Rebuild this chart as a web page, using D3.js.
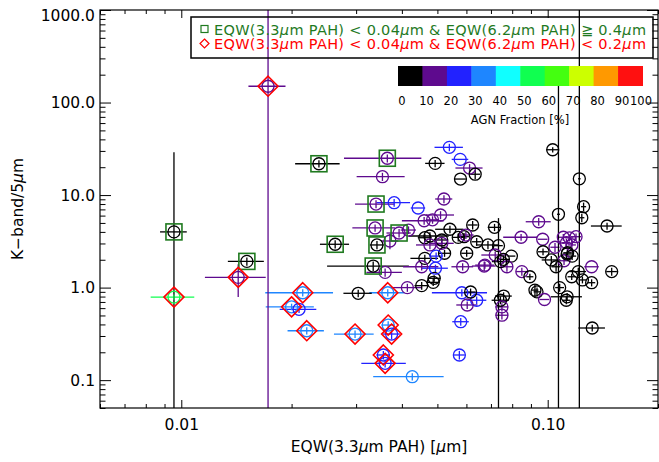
<!DOCTYPE html>
<html>
<head>
<meta charset="utf-8">
<script src="https://cdn.jsdelivr.net/npm/d3@7"></script>
<style>
  body { margin: 0; background: #fff; }
  text { font-family: 'DejaVu Sans', sans-serif; }
</style>
</head>
<body>
<div id="chart"></div>
<script>
// EQW(3.3um PAH) vs K-band/5um, colour = AGN fraction

const eqw = [0.01725, 0.00955, 0.00955, 0.0143, 0.0151, 0.02145, 0.0200, 0.02096, 0.022, 0.0263,
  0.0334, 0.02375, 0.0365, 0.034, 0.0338, 0.0393, 0.0342, 0.0366, 0.0298, 0.0367,
  0.0375, 0.0356, 0.036, 0.0539, 0.0493, 0.0577, 0.0612, 0.0578, 0.0634, 0.0354,
  0.0381, 0.0443, 0.0521, 0.051, 0.046, 0.0485, 0.0417, 0.0371, 0.0541, 0.0624,
  0.0462, 0.0477, 0.0514, 0.057, 0.0591, 0.064, 0.0687, 0.0462, 0.0523, 0.0601,
  0.049, 0.0514, 0.0477, 0.0598, 0.036, 0.0586, 0.0674, 0.0453, 0.0496, 0.0494,
  0.1032, 0.122, 0.107, 0.1253, 0.1239, 0.1452, 0.0945, 0.0846, 0.0969, 0.1103,
  0.1146, 0.1195, 0.1125, 0.1164, 0.1047, 0.1108, 0.113, 0.1166, 0.1133, 0.1023,
  0.1054, 0.0971, 0.0796, 0.0734, 0.0716, 0.0719, 0.0671, 0.0774, 0.085, 0.0894,
  0.0744, 0.0757, 0.1078, 0.0923, 0.0935, 0.1318, 0.1495, 0.1163, 0.1244, 0.1318,
  0.1212, 0.098, 0.113, 0.1124, 0.0758, 0.0743, 0.075, 0.075, 0.064, 0.1323,
  0.0304, 0.0414, 0.0453, 0.0487, 0.0583, 0.0616, 0.0603, 0.0579, 0.0574, 0.0427]

const eqwErr = [0.002, 0.0008, 0.0013, 0.0027, 0.0017, 0.0045, 0.003, 0.0024, 0.0025, 0.0024,
  0.0084, 0.0033, 0.0087, 0.0042, 0.0045, 0.003, 0.0015, 0.004, 0.0037, 0.0015,
  0.002, 0.0015, 0.005, 0.0048, 0.003, 0.003, 0.0052, 0.002, 0.002, 0.0053,
  0.004, 0.002, 0.0028, 0.0045, 0.006, 0.002, 0.002, 0.002, 0.0048, 0.002,
  0.002, 0.006, 0.002, 0.002, 0.002, 0.002, 0.005, 0.004, 0.002, 0.002,
  0.002, 0.004, 0.004, 0.003, 0.004, 0.004, 0.004, 0.005, 0.002, 0.004,
  0.004, 0.001, 0.001, 0.002, 0.002, 0.014, 0.0074, 0.009, 0.003, 0.003,
  0.003, 0.004, 0.003, 0.003, 0.003, 0.003, 0.003, 0.003, 0.003, 0.006,
  0.003, 0.003, 0.002, 0.002, 0.003, 0.006, 0.005, 0.003, 0.003, 0.002,
  0.004, 0.003, 0.003, 0.002, 0.002, 0.006, 0.005, 0.003, 0.003, 0.003,
  0.006, 0.003, 0.011, 0.003, 0.004, 0.004, 0.003, 0.003, 0.004, 0.011,
  0.0027, 0.004, 0.002, 0.002, 0.01, 0.002, 0.004, 0.003, 0.002, 0.0093]

const kRatio = [150, 4.0, 0.79, 1.29, 1.92, 0.88, 0.62, 0.583, 0.342, 2.94,
  1.71, 21.8, 25, 8.0, 4.41, 3.89, 2.89, 0.88, 0.315, 0.394,
  0.315, 0.187, 0.152, 32.8, 22.0, 24.3, 19.6, 14.9, 16.8, 15.8,
  8.27, 7.25, 9.07, 6.09, 5.28, 5.4, 4.19, 3.19, 4.27, 4.75,
  3.46, 3.61, 3.27, 3.49, 3.55, 3.13, 2.89, 2.07, 2.35, 2.35,
  1.26, 3.01, 2.89, 3.7, 1.46, 1.68, 1.75, 1.68, 2.19, 1.62,
  30.9, 15.0, 6.2, 7.49, 5.69, 4.63, 5.15, 3.5, 3.33, 3.5,
  3.45, 3.55, 3.06, 2.89, 2.73, 1.95, 2.31, 2.19, 2.38, 1.99,
  1.68, 2.44, 2.19, 2.84, 4.48, 2.25, 1.71, 1.68, 1.49, 1.31,
  1.91, 2.02, 1.0, 0.94, 0.90, 1.68, 1.49, 1.31, 1.21, 1.13,
  1.49, 0.744, 0.796, 0.73, 0.81, 0.73, 0.619, 0.503, 0.73, 0.366,
  0.868, 1.0, 1.05, 1.14, 0.88, 0.896, 0.649, 0.428, 0.187, 0.109]

const kRatioErr = [1000, 25, 0.05, 0.5, 0.2, 0.08, 0.05, 0.05, 0.03, 0.3,
  0.2, 2, 2.5, 0.8, 0.4, 0.4, 0.3, 0.08, 0.03, 0.04,
  0.04, 0.02, 0.015, 3, 2, 0, 2, 0, 2, 1.6,
  0.8, 0, 0.9, 0.6, 0.5, 0.5, 0.4, 0.6, 0.4, 0.5,
  0.35, 0.35, 0.3, 0.35, 0.35, 0.3, 0.3, 0.2, 0.2, 0.2,
  0.1, 0.3, 0.3, 0.35, 0.15, 0.15, 0.15, 0.15, 0.2, 0.15,
  2, 1000, 200, 0.8, 0.6, 0.4, 0.5, 0.3, 0, 0.3,
  0.3, 0.3, 0.3, 0.3, 0.3, 0.2, 0.2, 0.2, 0.2, 0.2,
  0.2, 0.2, 0, 2.8, 0.4, 0.2, 0.2, 0.2, 0.15, 0.1,
  0.2, 0.2, 0.1, 0.15, 0.1, 0, 0.15, 0.1, 0.1, 0.1,
  0.15, 0, 0.08, 0.07, 0.08, 0.07, 0.06, 0.05, 0.07, 0.03,
  0.08, 0.1, 0.1, 0.1, 0.08, 0.08, 0.06, 0.04, 0.02, 0.01]

const agnFrac = [15, 5, 55, 15, 5, 35, 35, 25, 35, 5,
  5, 5, 15, 15, 15, 15, 5, 35, 35, 35,
  25, 25, 25, 25, 5, 25, 15, 5, 5, 15,
  25, 25, 15, 15, 15, 15, 15, 15, 5, 5,
  5, 5, 5, 5, 5, 5, 5, 5, 5, 5,
  5, 15, 15, 15, 15, 15, 15, 15, 25, 25,
  5, 5, 5, 5, 5, 5, 15, 15, 15, 15,
  15, 15, 15, 15, 15, 15, 5, 5, 5, 5,
  5, 5, 5, 5, 5, 15, 15, 15, 15, 5,
  5, 5, 5, 5, 5, 15, 5, 5, 5, 5,
  5, 15, 5, 5, 5, 5, 15, 15, 25, 5,
  5, 15, 5, 5, 25, 5, 15, 25, 25, 35]

// 1 = square (6.2um EQW >= 0.4), 2 = diamond (6.2um EQW < 0.2)
const flag = [2, 1, 2, 2, 1, 2, 2, 0, 2, 1,
  1, 1, 1, 1, 1, 1, 1, 2, 2, 2,
  2, 2, 2, 0, 0, 0, 0, 0, 0, 0,
  0, 0, 0, 0, 0, 0, 0, 0, 0, 0,
  0, 0, 0, 0, 0, 0, 0, 0, 0, 0,
  0, 0, 0, 0, 0, 0, 0, 0, 0, 0,
  0, 0, 0, 0, 0, 0, 0, 0, 0, 0,
  0, 0, 0, 0, 0, 0, 0, 0, 0, 0,
  0, 0, 0, 0, 0, 0, 0, 0, 0, 0,
  0, 0, 0, 0, 0, 0, 0, 0, 0, 0,
  0, 0, 0, 0, 0, 0, 0, 0, 0, 0,
  0, 0, 0, 0, 0, 0, 0, 0, 0, 0]

const agnBins = [0, 10, 20, 30, 40, 50, 60, 70, 80, 90, 100]
const agnColors = ['#000000', '#5e0a8e', '#2222ff', '#1e86ff', '#10ffff', '#10ff50', '#44ff10', '#ccff00', '#ff9900', '#ff1010']

const xMajor = [0.01, 0.1]
const yMajor = [0.1, 1, 10, 100, 1000]

const width = 659
const height = 462
const plot = { left: 100, right: 658, top: 10, bottom: 408 }

const svg = d3.select('#chart')
  .append('svg')
  .attr('width', width)
  .attr('height', height)

const x = d3.scaleLog().domain([0.006, 0.2]).range([plot.left, plot.right])
const y = d3.scaleLog().domain([0.05, 1000]).range([plot.bottom, plot.top])

const color = d3.scaleThreshold()
  .domain(agnBins.slice(1, -1))
  .range(agnColors)

const points = eqw.map((d, i) => ({
  eqw: d,
  eqwErr: eqwErr[i],
  k: kRatio[i],
  kErr: kRatioErr[i],
  agn: agnFrac[i],
  flag: flag[i]
}))

svg.append('clipPath')
  .attr('id', 'clip')
  .append('rect')
  .attr('x', plot.left)
  .attr('y', plot.top)
  .attr('width', plot.right - plot.left)
  .attr('height', plot.bottom - plot.top)

const g = svg.append('g').attr('clip-path', 'url(#clip)')

function yLow(d) {
  const lo = d.k - d.kErr
  return lo > 0 ? y(lo) : plot.bottom + 5
}
function xLow(d) {
  const lo = d.eqw - d.eqwErr
  return lo > 0 ? x(lo) : plot.left - 5
}

// error bars
g.selectAll('.xerr')
  .data(points)
  .enter()
  .append('line')
  .attr('class', 'xerr')
  .attr('x1', d => xLow(d))
  .attr('x2', d => x(d.eqw + d.eqwErr))
  .attr('y1', d => y(d.k))
  .attr('y2', d => y(d.k))
  .attr('stroke', d => color(d.agn))
  .attr('stroke-width', 1.3)

g.selectAll('.yerr')
  .data(points.filter(d => d.kErr > 0))
  .enter()
  .append('line')
  .attr('class', 'yerr')
  .attr('x1', d => x(d.eqw))
  .attr('x2', d => x(d.eqw))
  .attr('y1', d => yLow(d))
  .attr('y2', d => y(d.k + d.kErr))
  .attr('stroke', d => color(d.agn))
  .attr('stroke-width', 1.3)

// circles
g.selectAll('.pt')
  .data(points)
  .enter()
  .append('circle')
  .attr('class', 'pt')
  .attr('cx', d => x(d.eqw))
  .attr('cy', d => y(d.k))
  .attr('r', 6)
  .attr('fill', 'none')
  .attr('stroke', d => color(d.agn))
  .attr('stroke-width', 1.3)

// squares and diamonds
g.selectAll('.sq')
  .data(points.filter(d => d.flag === 1))
  .enter()
  .append('rect')
  .attr('class', 'sq')
  .attr('x', d => x(d.eqw) - 8)
  .attr('y', d => y(d.k) - 8)
  .attr('width', 16)
  .attr('height', 16)
  .attr('fill', 'none')
  .attr('stroke', '#1f7a1f')
  .attr('stroke-width', 1.6)

g.selectAll('.dia')
  .data(points.filter(d => d.flag === 2))
  .enter()
  .append('path')
  .attr('class', 'dia')
  .attr('d', d => {
    const cx = x(d.eqw), cy = y(d.k), s = 10
    return `M${cx},${cy - s}L${cx + s},${cy}L${cx},${cy + s}L${cx - s},${cy}Z`
  })
  .attr('fill', 'none')
  .attr('stroke', '#ff0000')
  .attr('stroke-width', 1.6)

// axes
const xMinor = x.ticks().filter(t => !xMajor.includes(t))
const yMinor = y.ticks().filter(t => !yMajor.some(m => Math.abs(m - t) < 1e-9))

function axisStyle(sel) {
  sel.select('.domain').remove()
  sel.selectAll('line').attr('stroke', '#000').attr('stroke-width', 1)
  sel.selectAll('text').attr('font-size', 15.5).attr('fill', '#000')
}

svg.append('g')
  .attr('transform', 'translate(0,' + plot.bottom + ')')
  .call(d3.axisBottom(x).tickValues(xMajor).tickSize(-8).tickPadding(11).tickFormat(d3.format('.2f')))
  .call(axisStyle)
svg.append('g')
  .attr('transform', 'translate(0,' + plot.bottom + ')')
  .call(d3.axisBottom(x).tickValues(xMinor).tickSize(-4).tickFormat(''))
  .call(axisStyle)
svg.append('g')
  .attr('transform', 'translate(0,' + plot.top + ')')
  .call(d3.axisTop(x).tickValues(xMajor).tickSize(-8).tickFormat(''))
  .call(axisStyle)
svg.append('g')
  .attr('transform', 'translate(0,' + plot.top + ')')
  .call(d3.axisTop(x).tickValues(xMinor).tickSize(-4).tickFormat(''))
  .call(axisStyle)

const yAxisG = svg.append('g')
  .attr('transform', 'translate(' + plot.left + ',0)')
  .call(d3.axisLeft(y).tickValues(yMajor).tickSize(-11).tickPadding(5).tickFormat(d3.format('.1f')))
  .call(axisStyle)
yAxisG.selectAll('.tick text').filter(d => d === 1000).attr('dy', '0.65em')

svg.append('g')
  .attr('transform', 'translate(' + plot.left + ',0)')
  .call(d3.axisLeft(y).tickValues(yMinor).tickSize(-5.5).tickFormat(''))
  .call(axisStyle)
svg.append('g')
  .attr('transform', 'translate(' + plot.right + ',0)')
  .call(d3.axisRight(y).tickValues(yMajor).tickSize(-11).tickFormat(''))
  .call(axisStyle)
svg.append('g')
  .attr('transform', 'translate(' + plot.right + ',0)')
  .call(d3.axisRight(y).tickValues(yMinor).tickSize(-5.5).tickFormat(''))
  .call(axisStyle)

svg.append('rect')
  .attr('x', plot.left)
  .attr('y', plot.top)
  .attr('width', plot.right - plot.left)
  .attr('height', plot.bottom - plot.top)
  .attr('fill', 'none')
  .attr('stroke', '#000')
  .attr('stroke-width', 1.2)

// axis titles
const xTitle = svg.append('text')
  .attr('x', (plot.left + plot.right) / 2)
  .attr('y', 452)
  .attr('text-anchor', 'middle')
  .attr('font-size', 15.5)
xTitle.append('tspan').text('EQW(3.3')
xTitle.append('tspan').attr('font-style', 'italic').text('μ')
xTitle.append('tspan').text('m PAH) [')
xTitle.append('tspan').attr('font-style', 'italic').text('μ')
xTitle.append('tspan').text('m]')

const yTitle = svg.append('text')
  .attr('transform', 'translate(23,' + (plot.top + plot.bottom) / 2 + ') rotate(-90)')
  .attr('text-anchor', 'middle')
  .attr('font-size', 15.5)
yTitle.append('tspan').text('K−band/5')
yTitle.append('tspan').attr('font-style', 'italic').text('μ')
yTitle.append('tspan').text('m')

// colour bar
const cbar = d3.scaleLinear().domain([0, 100]).range([398, 642.5])

svg.selectAll('.cband')
  .data(agnColors)
  .enter()
  .append('rect')
  .attr('class', 'cband')
  .attr('x', (d, i) => cbar(agnBins[i]))
  .attr('y', 66)
  .attr('width', (d, i) => cbar(agnBins[i + 1]) - cbar(agnBins[i]) + 0.5)
  .attr('height', 20)
  .attr('fill', d => d)

svg.selectAll('.clabel')
  .data(agnBins)
  .enter()
  .append('text')
  .attr('class', 'clabel')
  .attr('x', d => d === 100 ? 652 : cbar(d) + 4)
  .attr('y', 105)
  .attr('text-anchor', d => d === 100 ? 'end' : 'middle')
  .attr('font-size', 11.5)
  .text(d => d)

svg.append('text')
  .attr('x', 520)
  .attr('y', 124)
  .attr('text-anchor', 'middle')
  .attr('font-size', 11.5)
  .text('AGN Fraction [%]')

// legend
svg.append('rect')
  .attr('x', 191)
  .attr('y', 17)
  .attr('width', 462)
  .attr('height', 41)
  .attr('fill', 'none')
  .attr('stroke', '#000')
  .attr('stroke-width', 1.5)

svg.append('rect')
  .attr('x', 201)
  .attr('y', 25.5)
  .attr('width', 7)
  .attr('height', 7)
  .attr('fill', 'none')
  .attr('stroke', '#1f7a1f')
  .attr('stroke-width', 1.2)

svg.append('path')
  .attr('d', 'M204.5,39L209,43.5L204.5,48L200,43.5Z')
  .attr('fill', 'none')
  .attr('stroke', '#ff0000')
  .attr('stroke-width', 1.2)

const legendRows = [
  { y: 34.5, color: '#1f7a1f', rel: '≧ 0.4' },
  { y: 49, color: '#ff0000', rel: '< 0.2' }
]

legendRows.forEach(row => {
  const t = svg.append('text')
    .attr('x', 214)
    .attr('y', row.y)
    .attr('font-size', 14.5)
    .attr('fill', row.color)
    .attr('textLength', 432)
    .attr('lengthAdjust', 'spacing')
  t.append('tspan').text('EQW(3.3')
  t.append('tspan').attr('font-style', 'italic').text('μ')
  t.append('tspan').text('m PAH) < 0.04')
  t.append('tspan').attr('font-style', 'italic').text('μ')
  t.append('tspan').text('m & EQW(6.2')
  t.append('tspan').attr('font-style', 'italic').text('μ')
  t.append('tspan').text('m PAH) ' + row.rel)
  t.append('tspan').attr('font-style', 'italic').text('μ')
  t.append('tspan').text('m')
})
</script>
</body>
</html>
